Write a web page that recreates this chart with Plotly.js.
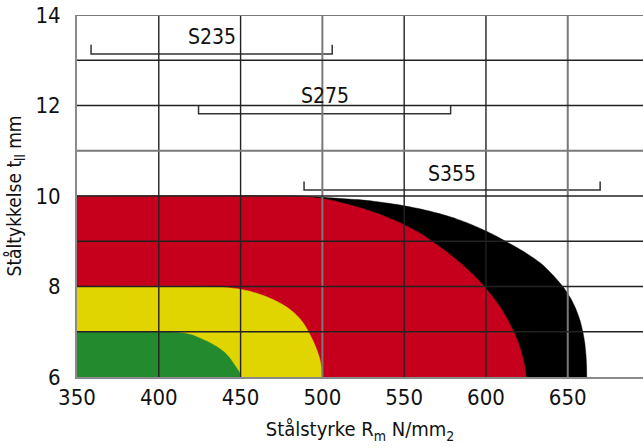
<!DOCTYPE html>
<html><head><meta charset="utf-8">
<script src="https://cdn.plot.ly/plotly-3.0.1.min.js"></script>
<style>html,body{margin:0;padding:0;background:#fff}</style>
</head><body><div id="chart" style="width:643px;height:448px"></div>
<script>
// Tick values / grid
const xTicks = [350, 400, 450, 500, 550, 600, 650];
const yTicks = [6, 8, 10, 12, 14];
const xGrid = [400, 450, 500, 550, 600, 650];
const yGrid = [7, 8, 9, 10, 11, 12, 13, 14];

// Region boundaries (strength N/mm2 vs thickness mm)
const blackX = [350, 486, 500, 527.5, 547.5, 561.5, 572.5, 581.5, 589, 595.5, 601.5, 607, 612, 624, 634, 641, 647, 651.6, 655, 657.5, 659.2, 660.4, 661.1, 661.5, 661.6];
const blackY = [10, 10, 9.97, 9.9, 9.8, 9.7, 9.6, 9.5, 9.4, 9.3, 9.2, 9.1, 9.0, 8.75, 8.5, 8.25, 8.0, 7.75, 7.5, 7.25, 7.0, 6.75, 6.5, 6.25, 6.0];

const redX = [350, 480, 486, 493, 500, 506, 517, 526.5, 534.5, 541.5, 548, 553.5, 558.5, 563, 567, 576.5, 585, 592.5, 599, 604.5, 609.5, 613.5, 617, 619.8, 622, 623.6, 624.5];
const redY = [10, 10, 9.995, 9.97, 9.94, 9.9, 9.8, 9.7, 9.6, 9.5, 9.4, 9.3, 9.2, 9.1, 9.0, 8.75, 8.5, 8.25, 8.0, 7.75, 7.5, 7.25, 7.0, 6.75, 6.5, 6.25, 6.0];

const yellowX = [350, 430, 440, 448, 455, 464, 470.5, 475.7, 480, 483.3, 486, 488.2, 490, 491.5, 494.3, 496.6, 498.4, 499.5, 500];
const yellowY = [8, 8, 7.985, 7.95, 7.9, 7.8, 7.7, 7.6, 7.5, 7.4, 7.3, 7.2, 7.1, 7.0, 6.8, 6.6, 6.4, 6.2, 6.0];

const greenX = [350, 405, 415, 421, 425.5, 430.5, 435, 440, 443.8, 447.6, 449.3, 450];
const greenY = [7, 7, 6.97, 6.92, 6.85, 6.77, 6.68, 6.55, 6.4, 6.2, 6.1, 6.0];

// Steel grade ranges
const gradeLabels = ['S235', 'S275', 'S355'];
const gradeStart = [358.6, 424.3, 488.8];
const gradeEnd = [506, 578.4, 669.8];
const gradeLineY = [13.14, 11.82, 10.13];
const gradeTickY = [13.34, 12.0, 10.32];
const gradeLabelY = [13.52, 12.2, 10.49];

const FONT = '"DejaVu Sans Condensed", "Liberation Sans Narrow", "DejaVu Sans", sans-serif';

function region(xs, ys, color) {
  return {x: xs, y: ys, type: 'scatter', mode: 'lines', fill: 'tozeroy',
    fillcolor: color, line: {color: color, width: 0.5, shape: 'spline', smoothing: 0.6},
    hoverinfo: 'skip', showlegend: false};
}

const traces = [
  region(blackX, blackY, '#000000'),
  region(redX, redY, '#C6001C'),
  region(yellowX, yellowY, '#E0D500'),
  region(greenX, greenY, '#248A2E')
];

gradeLabels.forEach((g, i) => {
  traces.push({
    x: [gradeStart[i], gradeStart[i], gradeEnd[i], gradeEnd[i]],
    y: [gradeTickY[i], gradeLineY[i], gradeLineY[i], gradeTickY[i]],
    type: 'scatter', mode: 'lines', line: {color: '#333', width: 1.5},
    hoverinfo: 'skip', showlegend: false
  });
});

const shapes = [];
const grayV = [500, 650];
xGrid.forEach(v => {
  const gray = grayV.includes(v);
  shapes.push({type: 'line', layer: 'above', xref: 'x', yref: 'paper', x0: v, x1: v, y0: 0, y1: 1,
    line: {color: gray ? '#7a7a7a' : '#222', width: gray ? 2 : 1.4}});
});
yGrid.forEach(v => {
  const gray = (v === 14 || v === 11);
  shapes.push({type: 'line', layer: 'above', xref: 'paper', yref: 'y', x0: 0, x1: 1, y0: v, y1: v,
    line: {color: gray ? '#7a7a7a' : '#222', width: gray ? 2 : 1.4}});
});

const annotations = gradeLabels.map((g, i) => ({
  x: (gradeStart[i] + gradeEnd[i]) / 2, y: gradeLabelY[i], xref: 'x', yref: 'y',
  text: g, showarrow: false, font: {family: FONT, size: 21, color: '#111'}
}));

const layout = {
  width: 643, height: 448,
  margin: {l: 77, r: 0, t: 15, b: 71},
  paper_bgcolor: '#fff', plot_bgcolor: '#fff',
  showlegend: false,
  xaxis: {
    range: [350, 696], tickvals: xTicks, ticktext: xTicks.map(String),
    showgrid: false, zeroline: false, showline: true, linecolor: '#8a8a8a', linewidth: 2,
    layer: 'above traces', ticks: '',
    tickfont: {family: FONT, size: 22, color: '#111'},
    title: {text: 'Stålstyrke R<sub>m</sub> N/mm<sub>2</sub>', font: {family: FONT, size: 20, color: '#111'}, standoff: 13},
    fixedrange: true
  },
  yaxis: {
    range: [6, 14], tickvals: yTicks, ticktext: yTicks.map(String),
    showgrid: false, zeroline: false, showline: true, linecolor: '#8a8a8a', linewidth: 2,
    layer: 'above traces', ticks: 'outside', ticklen: 10, tickcolor: 'rgba(0,0,0,0)',
    tickfont: {family: FONT, size: 22, color: '#111'},
    title: {text: 'Ståltykkelse t<sub>ll</sub> mm', font: {family: FONT, size: 19, color: '#111'}, standoff: 9},
    fixedrange: true
  },
  shapes: shapes,
  annotations: annotations
};

Plotly.newPlot('chart', traces, layout, {displayModeBar: false, staticPlot: true});
</script>
</body></html>
